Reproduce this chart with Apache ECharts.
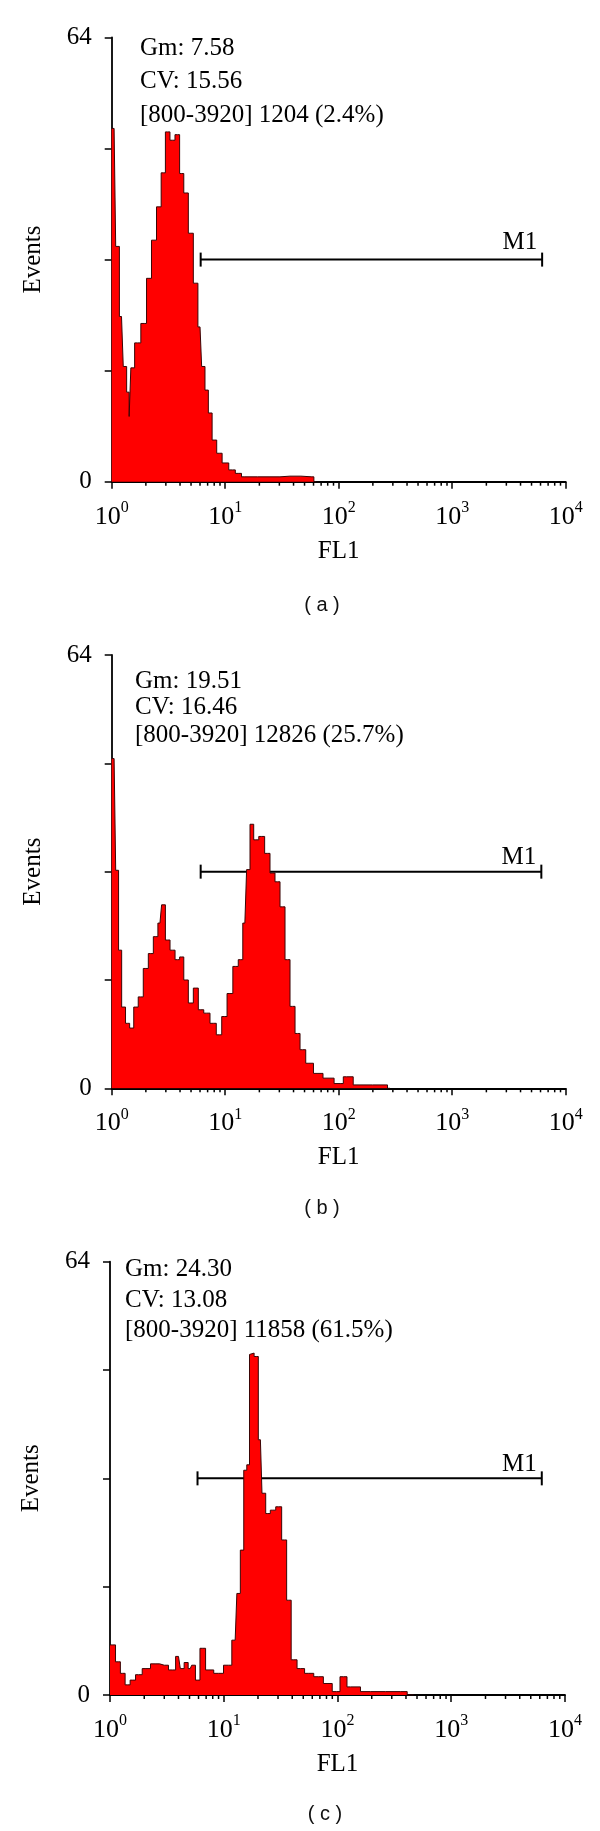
<!DOCTYPE html>
<html>
<head>
<meta charset="utf-8">
<script src="https://cdn.jsdelivr.net/npm/echarts@6/dist/echarts.min.js"></script>
<style>
  html, body { margin: 0; padding: 0; background: #fff; }
  #chart { width: 600px; height: 1831px; }
</style>
</head>
<body>
<div id="chart"></div>
<script>
// FL1 channel value (bin centre) and event count
const flA = [1, 1.05, 1.12, 1.22, 1.31, 1.40, 1.45, 1.50, 1.69, 1.93, 2.13, 2.36, 2.61, 2.85, 3.10, 3.43, 3.80, 4.14, 4.50, 4.98, 5.51, 6.0, 6.41, 6.87, 7.35, 8.0, 8.86, 9.96, 11.6, 13.0, 14.9, 24.8, 37.2, 58, 63];
const evA = [50.9, 50.9, 33.9, 23.8, 16.6, 12.9, 9.4, 16.4, 20, 22.8, 29.3, 34.8, 39.6, 44.5, 50.4, 49.2, 50, 44.4, 41.6, 35.8, 28.6, 22.3, 16.6, 13.2, 9.9, 6, 4.1, 2.7, 1.7, 1.2, 0.7, 0.7, 0.8, 0.7, 0];

const flB = [1, 1.05, 1.12, 1.18, 1.27, 1.38, 1.50, 1.63, 1.80, 2.0, 2.21, 2.45, 2.66, 2.85, 3.10, 3.44, 3.80, 4.14, 4.50, 4.98, 5.51, 6.10, 6.87, 7.86, 8.86, 9.80, 11.0, 12.4, 13.7, 14.9, 16.0, 17.1, 18.6, 21.0, 23.6, 26.1, 28.9, 32.0, 35.4, 39.2, 43.4, 48, 54.7, 65.7, 80.5, 103, 117, 154, 256, 283];
const evB = [48.7, 48.7, 32.2, 20.4, 12, 9.6, 8.9, 12, 13.5, 17.7, 19.9, 22.4, 24.4, 27.1, 21.9, 20.4, 19, 19.4, 16, 12.6, 14.8, 11.6, 11.1, 9.6, 7.9, 10.6, 14, 18, 19, 24.4, 32.3, 39, 36.7, 37.2, 34.7, 31.8, 30.5, 26.8, 19, 12.1, 8.1, 5.7, 3.7, 2.2, 1.5, 0.7, 1.7, 0.5, 0.5, 0];

const flC = [1, 1.06, 1.18, 1.29, 1.43, 1.58, 1.78, 2.07, 2.49, 3.0, 3.56, 4.0, 4.31, 4.67, 5.07, 5.39, 5.90, 6.47, 7.41, 9.0, 11.0, 12.6, 13.5, 14.5, 15.5, 16.4, 17.3, 17.7, 19.3, 21.0, 22.4, 24.4, 27.0, 30.4, 34.3, 37.2, 41.2, 47.2, 55.9, 68.4, 82.5, 97.9, 113, 130, 195, 359, 468];
const evC = [7.4, 7.4, 4.9, 3.2, 1.5, 2.2, 3, 3.9, 4.6, 4.4, 3.7, 5.7, 3.9, 4.8, 3.9, 4.4, 2.2, 6.9, 3.7, 3.2, 4.4, 8.1, 15, 21.4, 33.2, 34, 50.3, 50.5, 50, 37.7, 29.8, 26.8, 27.3, 27.8, 22.9, 14, 5.2, 3.9, 3.2, 2.7, 1.7, 0.5, 2.7, 1.2, 0.5, 0.5, 0];

// M1 gate: [from, to, events level]
const gateA = [6.08, 6200, 32];
const gateB = [6.08, 6100, 32];
const gateC = [5.88, 6250, 32];

const statsA = ['Gm: 7.58', 'CV: 15.56', '[800-3920] 1204 (2.4%)'];
const statsB = ['Gm: 19.51', 'CV: 16.46', '[800-3920] 12826 (25.7%)'];
const statsC = ['Gm: 24.30', 'CV: 13.08', '[800-3920] 11858 (61.5%)'];
const captions = ['( a )', '( b )', '( c )'];

const yTicks = [0, 16, 32, 48, 64];
const minorTicks = [2, 3, 4, 5, 6, 7, 8, 9, 20, 30, 40, 50, 60, 70, 80, 90,
  200, 300, 400, 500, 600, 700, 800, 900, 2000, 3000, 4000, 5000, 6000, 7000, 8000, 9000];

const serif = 'Liberation Serif';

const layout = [
  { left: 111.7, top: 37.5, width: 454, height: 444.2, textX: 140, textY: [48, 81, 115.5], capX: 322, capY: 605, m1Dy: 17 },
  { left: 111.7, top: 655, width: 454, height: 433.3, textX: 135, textY: [681.7, 707.3, 735], capX: 322, capY: 1208, m1Dy: 14 },
  { left: 110, top: 1261.7, width: 455, height: 433.3, textX: 125, textY: [1269.5, 1300, 1330], capX: 325, capY: 1814, m1Dy: 14 }
];

const panels = [
  { fl: flA, ev: evA, gate: gateA, stats: statsA },
  { fl: flB, ev: evB, gate: gateB, stats: statsB },
  { fl: flC, ev: evC, gate: gateC, stats: statsC }
];

const chart = echarts.init(document.getElementById('chart'));

const grid = [], xAxis = [], yAxis = [], series = [], graphic = [];

panels.forEach((p, i) => {
  const L = layout[i];
  grid.push({ left: L.left, top: L.top, width: L.width, height: L.height, show: false });

  xAxis.push({
    type: 'log', logBase: 10, min: 1, max: 10000, splitNumber: 4, gridIndex: i,
    name: 'FL1', nameLocation: 'middle', nameGap: 57,
    nameTextStyle: { fontFamily: serif, fontSize: 25, color: '#000' },
    axisLine: { lineStyle: { color: '#000', width: 1.8 } },
    axisTick: { length: 7, lineStyle: { color: '#000', width: 1.5 } },
    splitLine: { show: false },
    axisLabel: {
      margin: 18,
      formatter: v => '{b|10}{s|' + Math.round(Math.log10(v)) + '}',
      rich: {
        b: { fontFamily: serif, fontSize: 26, color: '#000', lineHeight: 34 },
        s: { fontFamily: serif, fontSize: 16, color: '#000', verticalAlign: 'top' }
      }
    }
  });

  yAxis.push({
    type: 'value', min: 0, max: 64, interval: 16, gridIndex: i,
    name: 'Events', nameLocation: 'middle', nameGap: 66, nameRotate: 90,
    nameTextStyle: { fontFamily: serif, fontSize: 25, color: '#000' },
    axisLine: { show: true, lineStyle: { color: '#000', width: 1.8 } },
    axisTick: { show: true, length: 7, lineStyle: { color: '#000', width: 1.5 } },
    splitLine: { show: false },
    axisLabel: {
      margin: 20, fontFamily: serif, fontSize: 25, color: '#000',
      formatter: v => (v === yTicks[0] || v === yTicks[yTicks.length - 1]) ? String(v) : ''
    }
  });

  series.push({
    type: 'line', xAxisIndex: i, yAxisIndex: i,
    data: p.fl.map((x, k) => [x, p.ev[k]]),
    step: 'middle', showSymbol: false, silent: true,
    lineStyle: { color: '#3a0505', width: 1 },
    areaStyle: { color: '#ff0000', opacity: 1 }
  });

  series.push({
    type: 'custom', xAxisIndex: i, yAxisIndex: i, silent: true,
    data: minorTicks.map(v => [v, 0]),
    renderItem: (params, api) => {
      const c = api.coord([api.value(0), 0]);
      return {
        type: 'line',
        shape: { x1: c[0], y1: c[1], x2: c[0], y2: c[1] + 4 },
        style: { stroke: '#000', lineWidth: 1.5 }
      };
    }
  });

  series.push({
    type: 'custom', xAxisIndex: i, yAxisIndex: i, silent: true,
    encode: { x: [0, 1], y: 2 },
    data: [p.gate],
    renderItem: (params, api) => {
      const a = api.coord([api.value(0), api.value(2)]);
      const b = api.coord([api.value(1), api.value(2)]);
      const st = { stroke: '#000', lineWidth: 2 };
      return {
        type: 'group',
        children: [
          { type: 'line', shape: { x1: a[0], y1: a[1], x2: b[0], y2: b[1] }, style: st },
          { type: 'line', shape: { x1: a[0], y1: a[1] - 7, x2: a[0], y2: a[1] + 7 }, style: st },
          { type: 'line', shape: { x1: b[0], y1: b[1] - 7, x2: b[0], y2: b[1] + 7 }, style: st },
          {
            type: 'text', x: b[0] - 5, y: b[1] - L.m1Dy,
            style: { text: 'M1', font: '25px "' + serif + '"', fill: '#000', align: 'right', verticalAlign: 'middle' }
          }
        ]
      };
    }
  });

  p.stats.forEach((t, k) => {
    graphic.push({
      type: 'text', x: L.textX, y: L.textY[k], silent: true,
      style: { text: t, font: '25px "' + serif + '"', fill: '#000', align: 'left', verticalAlign: 'middle' }
    });
  });

  graphic.push({
    type: 'text', x: L.capX, y: L.capY, silent: true,
    style: { text: captions[i], font: '20px "Liberation Sans"', fill: '#111', align: 'center', verticalAlign: 'middle' }
  });
});

chart.setOption({
  animation: false,
  backgroundColor: '#fff',
  grid, xAxis, yAxis, series, graphic
});
</script>
</body>
</html>
